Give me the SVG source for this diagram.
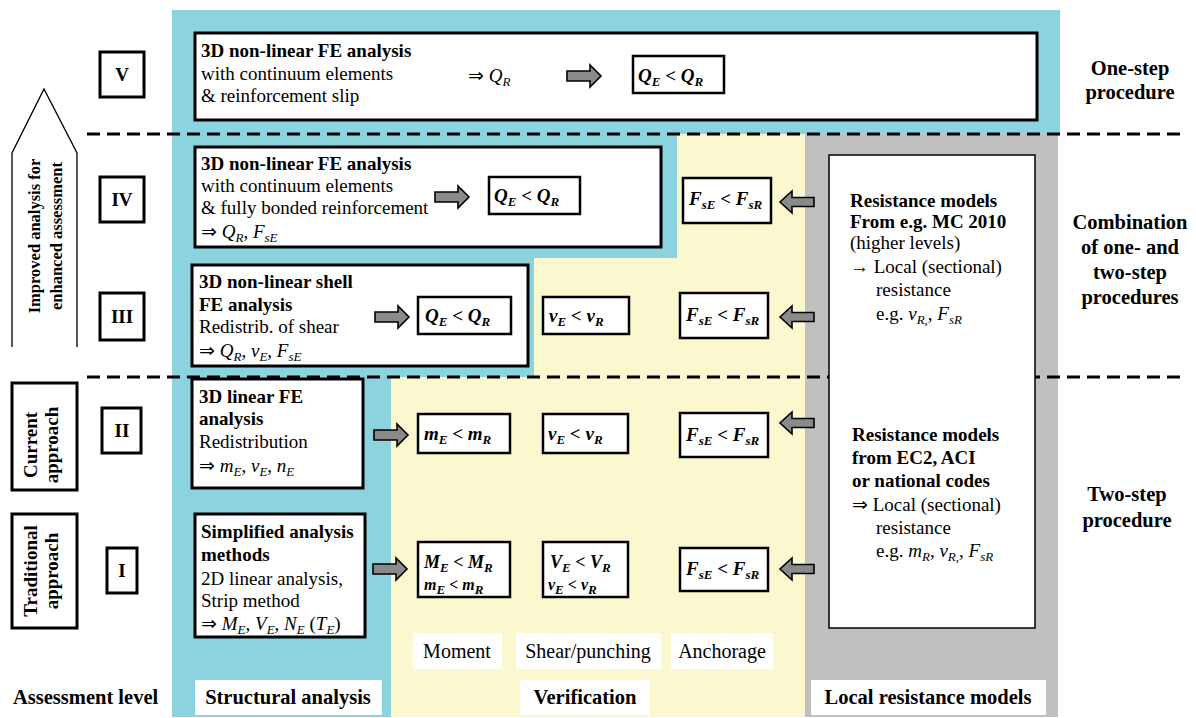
<svg xmlns="http://www.w3.org/2000/svg" width="1196" height="718" viewBox="0 0 1196 718">
<style>
text{font-family:"Liberation Serif","Times New Roman",serif;fill:#000;font-size:19px}
.b{font-weight:bold}
.i{font-style:italic}
.bi{font-weight:bold;font-style:italic}
.lbl{font-size:20.5px;font-weight:bold}
.cap{font-size:20px}
.side{font-size:20.5px;font-weight:bold;text-anchor:middle}
.mid{text-anchor:middle}
.box{fill:#fff;stroke:#000;stroke-width:3}
.ibox{fill:#fff;stroke:#000;stroke-width:2.5}
.thin{fill:#fff;stroke:#000;stroke-width:1.5}
.wl{fill:#fff;stroke:none}
.arr{fill:#8a8a8a;stroke:#000;stroke-width:1.6;stroke-linejoin:miter}
.dash{stroke:#000;stroke-width:3;stroke-dasharray:13 7;fill:none}
.sub{font-size:13px}
</style>
<defs>
<path id="ra" class="arr" d="M0,-5 H23 V-11 L34,0 L23,11 V5 H0 Z"/>
<path id="la" class="arr" d="M34,-4.5 H12 V-11 L0,0 L12,11 V4.5 H34 Z"/>
</defs>

<g id="background">
<path fill="#8cd3e0" d="M172,10 H1060 V134 H677 V258 H534 V377 H391 V717 H172 Z"/>
<path fill="#fbf8d0" d="M677,134 H805 V717 H391 V377 H534 V258 H677 Z"/>
<rect fill="#c0c0c0" x="805" y="134" width="253" height="583"/>
</g>

<g id="separators">
<line class="dash" x1="87" y1="134" x2="1185" y2="134"/>
<line class="dash" x1="87" y1="377" x2="1185" y2="377"/>
</g>

<g id="improved-arrow">
<path d="M12,347 V153 L44,89 L77,153 V347" fill="#fff" stroke="#000" stroke-width="1.3"/>
<g transform="translate(0,236) rotate(-90)">
<text class="b mid" style="font-size:16.5px" x="0" y="40">Improved analysis for</text>
<text class="b mid" style="font-size:16.5px" x="0" y="62">enhanced assessment</text>
</g>
</g>

<g id="current-approach">
<rect class="box" x="12" y="383" width="65" height="107"/>
<g transform="translate(0,445) rotate(-90)">
<text class="b mid" x="0" y="37">Current</text>
<text class="b mid" x="0" y="58">approach</text>
</g>
</g>

<g id="traditional-approach">
<rect class="box" x="12" y="514" width="65" height="114"/>
<g transform="translate(0,571) rotate(-90)">
<text class="b mid" x="0" y="37">Traditional</text>
<text class="b mid" x="0" y="58">approach</text>
</g>
</g>

<g id="level-V"><rect class="box" x="100" y="52" width="44" height="45"/><text class="b mid" x="122" y="81">V</text></g>
<g id="level-IV"><rect class="box" x="100" y="177" width="44" height="45"/><text class="b mid" x="122" y="206">IV</text></g>
<g id="level-III"><rect class="box" x="100" y="293" width="44" height="47"/><text class="b mid" x="122" y="323">III</text></g>
<g id="level-II"><rect class="box" x="102" y="408" width="39" height="45"/><text class="b mid" x="122" y="437">II</text></g>
<g id="level-I"><rect class="box" x="107" y="548" width="30" height="45"/><text class="b mid" x="122" y="577">I</text></g>

<g id="analysis-V">
<rect class="box" x="195" y="33" width="842" height="87"/>
<text class="b" x="201" y="57">3D non-linear FE analysis</text>
<text x="201" y="80">with continuum elements</text>
<text x="201" y="102">&amp; reinforcement slip</text>
<text x="468" y="82">⇒ <tspan class="i">Q</tspan><tspan class="i sub" dy="4">R</tspan></text>
</g>
<g id="check-V-Q">
<rect class="ibox" x="633" y="56" width="91" height="37"/>
<text x="638" y="82"><tspan class="bi">Q</tspan><tspan class="bi sub" dy="4">E</tspan><tspan class="b" dy="-4"> &lt; </tspan><tspan class="bi">Q</tspan><tspan class="bi sub" dy="4">R</tspan></text>
</g>

<g id="analysis-IV">
<rect class="box" x="195" y="147" width="466" height="100"/>
<text class="b" x="201" y="170">3D non-linear FE analysis</text>
<text x="201" y="192">with continuum elements</text>
<text x="201" y="214">&amp; fully bonded reinforcement</text>
<text x="201" y="238">⇒ <tspan class="i">Q</tspan><tspan class="i sub" dy="4">R</tspan><tspan dy="-4">, </tspan><tspan class="i">F</tspan><tspan class="i sub" dy="4">sE</tspan></text>
</g>
<g id="check-IV-Q">
<rect class="ibox" x="489" y="177" width="91" height="37"/>
<text x="494" y="202"><tspan class="bi">Q</tspan><tspan class="bi sub" dy="4">E</tspan><tspan class="b" dy="-4"> &lt; </tspan><tspan class="bi">Q</tspan><tspan class="bi sub" dy="4">R</tspan></text>
</g>
<g id="check-IV-F">
<rect class="ibox" x="683" y="178" width="88" height="45"/>
<text x="689" y="205"><tspan class="bi">F</tspan><tspan class="bi sub" dy="4">sE</tspan><tspan class="b" dy="-4"> &lt; </tspan><tspan class="bi">F</tspan><tspan class="bi sub" dy="4">sR</tspan></text>
</g>

<g id="analysis-III">
<rect class="box" x="192" y="265" width="336" height="101"/>
<text class="b" x="199" y="288">3D non-linear shell</text>
<text class="b" x="199" y="311">FE analysis</text>
<text x="199" y="333">Redistrib. of shear</text>
<text x="199" y="357">⇒ <tspan class="i">Q</tspan><tspan class="i sub" dy="4">R</tspan><tspan dy="-4">, </tspan><tspan class="i">v</tspan><tspan class="i sub" dy="4">E</tspan><tspan dy="-4">, </tspan><tspan class="i">F</tspan><tspan class="i sub" dy="4">sE</tspan></text>
</g>
<g id="check-III-Q">
<rect class="ibox" x="418" y="297" width="93" height="37"/>
<text x="425" y="322"><tspan class="bi">Q</tspan><tspan class="bi sub" dy="4">E</tspan><tspan class="b" dy="-4"> &lt; </tspan><tspan class="bi">Q</tspan><tspan class="bi sub" dy="4">R</tspan></text>
</g>
<g id="check-III-v">
<rect class="ibox" x="543" y="297" width="86" height="37"/>
<text x="549" y="322"><tspan class="bi">v</tspan><tspan class="bi sub" dy="4">E</tspan><tspan class="b" dy="-4"> &lt; </tspan><tspan class="bi">v</tspan><tspan class="bi sub" dy="4">R</tspan></text>
</g>
<g id="check-III-F">
<rect class="ibox" x="680" y="293" width="88" height="45"/>
<text x="686" y="321"><tspan class="bi">F</tspan><tspan class="bi sub" dy="4">sE</tspan><tspan class="b" dy="-4"> &lt; </tspan><tspan class="bi">F</tspan><tspan class="bi sub" dy="4">sR</tspan></text>
</g>

<g id="analysis-II">
<rect class="box" x="192" y="379" width="171" height="109"/>
<text class="b" x="199" y="403">3D linear FE</text>
<text class="b" x="199" y="425">analysis</text>
<text x="199" y="448">Redistribution</text>
<text x="199" y="472">⇒ <tspan class="i">m</tspan><tspan class="i sub" dy="4">E</tspan><tspan dy="-4">, </tspan><tspan class="i">v</tspan><tspan class="i sub" dy="4">E</tspan><tspan dy="-4">, </tspan><tspan class="i">n</tspan><tspan class="i sub" dy="4">E</tspan></text>
</g>
<g id="check-II-m">
<rect class="ibox" x="418" y="414" width="92" height="39"/>
<text x="424" y="440"><tspan class="bi">m</tspan><tspan class="bi sub" dy="4">E</tspan><tspan class="b" dy="-4"> &lt; </tspan><tspan class="bi">m</tspan><tspan class="bi sub" dy="4">R</tspan></text>
</g>
<g id="check-II-v">
<rect class="ibox" x="543" y="414" width="85" height="39"/>
<text x="548" y="440"><tspan class="bi">v</tspan><tspan class="bi sub" dy="4">E</tspan><tspan class="b" dy="-4"> &lt; </tspan><tspan class="bi">v</tspan><tspan class="bi sub" dy="4">R</tspan></text>
</g>
<g id="check-II-F">
<rect class="ibox" x="680" y="413" width="88" height="44"/>
<text x="686" y="441"><tspan class="bi">F</tspan><tspan class="bi sub" dy="4">sE</tspan><tspan class="b" dy="-4"> &lt; </tspan><tspan class="bi">F</tspan><tspan class="bi sub" dy="4">sR</tspan></text>
</g>

<g id="analysis-I">
<rect class="box" x="195" y="514" width="170" height="123"/>
<text class="b" x="201" y="538">Simplified analysis</text>
<text class="b" x="201" y="561">methods</text>
<text x="201" y="585">2D linear analysis,</text>
<text x="201" y="607">Strip method</text>
<text x="201" y="630">⇒ <tspan class="i">M</tspan><tspan class="i sub" dy="4">E</tspan><tspan dy="-4">, </tspan><tspan class="i">V</tspan><tspan class="i sub" dy="4">E</tspan><tspan dy="-4">, </tspan><tspan class="i">N</tspan><tspan class="i sub" dy="4">E</tspan><tspan dy="-4"> (</tspan><tspan class="i">T</tspan><tspan class="i sub" dy="4">E</tspan><tspan dy="-4">)</tspan></text>
</g>
<g id="check-I-M">
<rect class="ibox" x="418" y="542" width="92" height="55"/>
<text x="424" y="568" style="font-size:18px"><tspan class="bi">M</tspan><tspan class="bi sub" dy="4">E</tspan><tspan class="b" dy="-4"> &lt; </tspan><tspan class="bi">M</tspan><tspan class="bi sub" dy="4">R</tspan></text>
<text x="424" y="590" style="font-size:16px"><tspan class="bi">m</tspan><tspan class="bi sub" dy="4">E</tspan><tspan class="b" dy="-4"> &lt; </tspan><tspan class="bi">m</tspan><tspan class="bi sub" dy="4">R</tspan></text>
</g>
<g id="check-I-V">
<rect class="ibox" x="543" y="542" width="85" height="55"/>
<text x="550" y="568" style="font-size:18px"><tspan class="bi">V</tspan><tspan class="bi sub" dy="4">E</tspan><tspan class="b" dy="-4"> &lt; </tspan><tspan class="bi">V</tspan><tspan class="bi sub" dy="4">R</tspan></text>
<text x="548" y="590" style="font-size:16px"><tspan class="bi">v</tspan><tspan class="bi sub" dy="4">E</tspan><tspan class="b" dy="-4"> &lt; </tspan><tspan class="bi">v</tspan><tspan class="bi sub" dy="4">R</tspan></text>
</g>
<g id="check-I-F">
<rect class="ibox" x="680" y="548" width="88" height="43"/>
<text x="686" y="575"><tspan class="bi">F</tspan><tspan class="bi sub" dy="4">sE</tspan><tspan class="b" dy="-4"> &lt; </tspan><tspan class="bi">F</tspan><tspan class="bi sub" dy="4">sR</tspan></text>
</g>

<g id="resistance-models">
<rect class="thin" x="829" y="155" width="206" height="473"/>
<text class="b" x="850" y="207">Resistance models</text>
<text class="b" x="850" y="228">From e.g. MC 2010</text>
<text x="850" y="249">(higher levels)</text>
<text x="850" y="273">→ Local (sectional)</text>
<text x="876" y="296">resistance</text>
<text x="876" y="320">e.g. <tspan class="i">v</tspan><tspan class="i sub" dy="4">R,</tspan><tspan dy="-4">, </tspan><tspan class="i">F</tspan><tspan class="i sub" dy="4">sR</tspan></text>
<text class="b" x="852" y="441">Resistance models</text>
<text class="b" x="852" y="464">from EC2, ACI</text>
<text class="b" x="852" y="487">or national codes</text>
<text x="852" y="511">⇒ Local (sectional)</text>
<text x="876" y="534">resistance</text>
<text x="876" y="557">e.g. <tspan class="i">m</tspan><tspan class="i sub" dy="4">R</tspan><tspan dy="-4">, </tspan><tspan class="i">v</tspan><tspan class="i sub" dy="4">R,</tspan><tspan dy="-4">, </tspan><tspan class="i">F</tspan><tspan class="i sub" dy="4">sR</tspan></text>
</g>

<g id="connectors">
<use href="#ra" transform="translate(567,76)"/>
<use href="#ra" transform="translate(435,197)"/>
<use href="#ra" transform="translate(375,317)"/>
<use href="#ra" transform="translate(374,435)"/>
<use href="#ra" transform="translate(373,569)"/>
<use href="#la" transform="translate(780,202)"/>
<use href="#la" transform="translate(780,317)"/>
<use href="#la" transform="translate(780,423)"/>
<use href="#la" transform="translate(780,569)"/>
</g>

<g id="category-labels">
<rect class="wl" x="413" y="633" width="89" height="36"/><text class="cap mid" x="457" y="658">Moment</text>
<rect class="wl" x="516" y="633" width="145" height="36"/><text class="cap mid" x="588" y="658">Shear/punching</text>
<rect class="wl" x="671" y="633" width="102" height="36"/><text class="cap mid" x="722" y="658">Anchorage</text>
</g>

<g id="column-labels">
<text class="lbl" x="13" y="704">Assessment level</text>
<rect class="wl" x="195" y="680" width="187" height="35"/><text class="lbl mid" x="288" y="704">Structural analysis</text>
<rect class="wl" x="520" y="680" width="130" height="35"/><text class="lbl mid" x="585" y="704">Verification</text>
<rect class="wl" x="811" y="680" width="235" height="35"/><text class="lbl mid" x="928" y="704">Local resistance models</text>
</g>

<g id="procedure-labels">
<text class="side" x="1130" y="75">One-step</text>
<text class="side" x="1130" y="99">procedure</text>
<text class="side" x="1130" y="229">Combination</text>
<text class="side" x="1130" y="254">of one- and</text>
<text class="side" x="1130" y="279">two-step</text>
<text class="side" x="1130" y="304">procedures</text>
<text class="side" x="1127" y="501">Two-step</text>
<text class="side" x="1127" y="527">procedure</text>
</g>
</svg>
